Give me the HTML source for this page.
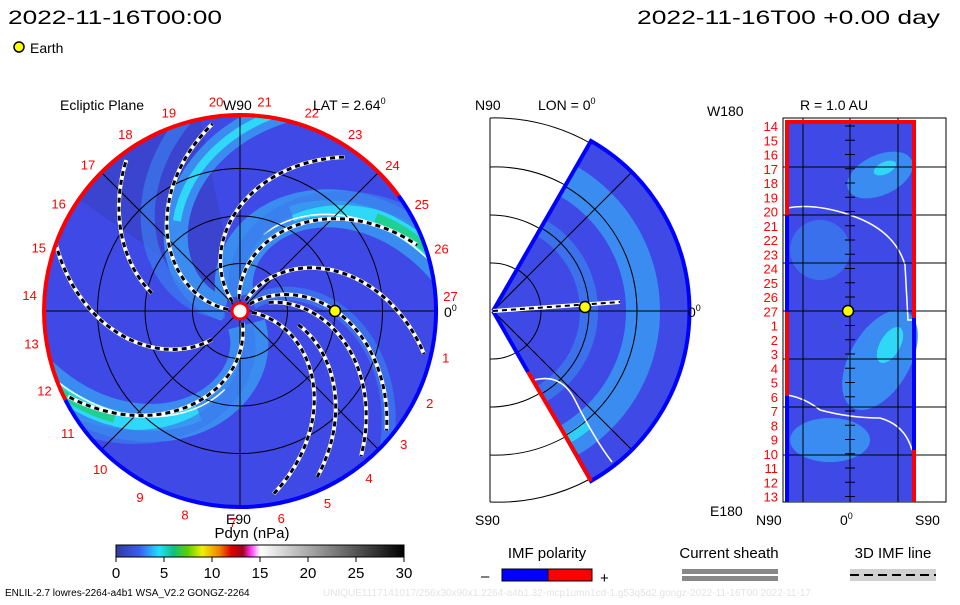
<!DOCTYPE html>
<html><head><meta charset="utf-8"><style>
body{margin:0;background:#fff;width:960px;height:600px;overflow:hidden;font-family:"Liberation Sans",sans-serif}
svg text{font-family:"Liberation Sans",sans-serif}
</style></head><body>
<svg id="s" width="960" height="600" viewBox="0 0 960 600" xmlns="http://www.w3.org/2000/svg">
<defs>
<clipPath id="cc"><circle cx="240" cy="311" r="196"/></clipPath>
<clipPath id="wc"><path d="M493,311 L591,141 A196,196 0 0 1 591,481 Z"/></clipPath>
<linearGradient id="cb" x1="0" x2="1">
<stop offset="0" stop-color="#303c9c"/><stop offset="0.08" stop-color="#3a5cf0"/><stop offset="0.15" stop-color="#20e0ff"/><stop offset="0.2" stop-color="#10c080"/><stop offset="0.25" stop-color="#60d000"/><stop offset="0.3" stop-color="#f0f000"/><stop offset="0.36" stop-color="#f08000"/><stop offset="0.4" stop-color="#e00000"/><stop offset="0.44" stop-color="#a00020"/><stop offset="0.47" stop-color="#ff40ff"/><stop offset="0.5" stop-color="#ffffff"/><stop offset="1" stop-color="#000"/>
</linearGradient>
</defs>
<text x="8" y="24" font-size="19" textLength="214" lengthAdjust="spacingAndGlyphs">2022-11-16T00:00</text>
<text x="637" y="24" font-size="19" textLength="303" lengthAdjust="spacingAndGlyphs">2022-11-16T00 +0.00 day</text>
<circle cx="19" cy="47" r="5" fill="#ff0" stroke="#000" stroke-width="1.5"/>
<text x="30" y="53" font-size="14">Earth</text>

<g id="eclip">
<circle cx="240" cy="311" r="196" fill="#3f4ae6"/>
<path d="M240,311 L80,200 A196,196 0 0 1 200,118 Z" fill="#3a42c8" clip-path="url(#cc)" opacity="0.8"/>
<g id="bands" clip-path="url(#cc)"></g>
<g id="grid" stroke="#000" stroke-width="1" fill="none" clip-path="url(#cc)"></g>
<g id="spirals" clip-path="url(#cc)"></g>
<g id="rim"></g>
<circle cx="240" cy="311" r="8" fill="#fff" stroke="#f00" stroke-width="3"/>
<circle cx="335" cy="311" r="5.5" fill="#ff0" stroke="#000" stroke-width="1.5"/>
<g id="lonlabels" fill="#f00" font-size="13"></g>
<text x="60" y="110" font-size="14">Ecliptic Plane</text>
<text x="223" y="110" font-size="14">W90</text>
<text x="313" y="110" font-size="14">LAT = 2.64<tspan font-size="9" dy="-6">0</tspan></text>
<text x="226" y="524" font-size="14">E90</text>
<text x="444" y="317" font-size="14">0<tspan font-size="9" dy="-6">0</tspan></text>
</g>

<g>
<line x1="490" y1="118" x2="490" y2="502" stroke="#000"/>
<g fill="none" stroke="#000" stroke-width="1">
<path d="M490,118 A193,193 0 0 1 590,143"/><path d="M490,502 A193,193 0 0 0 590,479"/>
<path d="M490,263 A48,48 0 0 1 517,270"/><path d="M490,215 A96,96 0 0 1 560,245"/><path d="M490,167 A144,144 0 0 1 565,185"/>
<path d="M490,359 A48,48 0 0 0 517,352"/><path d="M490,407 A96,96 0 0 0 560,377"/><path d="M490,455 A144,144 0 0 0 565,437"/>
</g>
<g clip-path="url(#wc)">
<rect x="490" y="118" width="210" height="390" fill="#3f4ae6"/>
<circle cx="493" cy="311" r="150" fill="none" stroke="#3a8cf0" stroke-width="34"/>
<circle cx="493" cy="311" r="148" fill="none" stroke="#2fd0f8" stroke-width="10" stroke-dasharray="60 400" stroke-dashoffset="330"/>
<circle cx="493" cy="311" r="96" fill="none" stroke="#3a8cf0" stroke-width="18" opacity="0.6"/>
<g fill="none" stroke="#000"><circle cx="493" cy="311" r="48"/><circle cx="493" cy="311" r="96"/><circle cx="493" cy="311" r="144"/>
<line x1="493" y1="311" x2="700" y2="311"/><line x1="493" y1="311" x2="650" y2="154"/><line x1="493" y1="311" x2="650" y2="468"/></g>
<path d="M528,382 Q560,370 575,400 Q595,440 612,462" fill="none" stroke="#fff" stroke-width="1.5"/>
</g>
<path d="M493,311 L591,141 A196,196 0 0 1 591,481 L566,437" fill="none" stroke="#00f" stroke-width="4"/>
<path d="M566,437 L528,372" stroke="#f00" stroke-width="4"/><path d="M591,481 L566,437" stroke="#f00" stroke-width="4"/>
<path d="M493,311 L528,372" stroke="#00f" stroke-width="4"/>
<line x1="493" y1="311" x2="620" y2="302" stroke="#fff" stroke-width="4"/>
<line x1="493" y1="311" x2="620" y2="302" stroke="#000" stroke-width="2" stroke-dasharray="5 4"/>
<circle cx="585" cy="307" r="5.5" fill="#ff0" stroke="#000" stroke-width="1.5"/>
<text x="475" y="110" font-size="14">N90</text>
<text x="538" y="110" font-size="14">LON = 0<tspan font-size="9" dy="-6">0</tspan></text>
<text x="475" y="525" font-size="14">S90</text>
<text x="688" y="317" font-size="14">0<tspan font-size="9" dy="-6">0</tspan></text>
</g>

<g>
<rect x="783" y="118" width="163" height="384" fill="#fff" stroke="#000"/>
<rect x="787" y="122" width="127" height="380" fill="#3f4ae6"/>
<ellipse cx="880" cy="175" rx="35" ry="20" fill="#3a8cf0" transform="rotate(-25 880 175)"/>
<ellipse cx="885" cy="168" rx="12" ry="6" fill="#30d8f8" transform="rotate(-25 885 168)"/>
<ellipse cx="880" cy="360" rx="30" ry="55" fill="#3a8cf0" transform="rotate(30 880 360)"/>
<ellipse cx="890" cy="345" rx="10" ry="20" fill="#30d8f8" transform="rotate(30 890 345)"/>
<ellipse cx="830" cy="440" rx="40" ry="22" fill="#3a8cf0"/>
<ellipse cx="820" cy="250" rx="30" ry="30" fill="#3a80f0" opacity="0.7"/>
<path d="M787,208 Q815,203 850,215 Q895,230 905,265 L908,320 L914,320" fill="none" stroke="#fff" stroke-width="1.5"/>
<path d="M787,395 Q805,398 820,410 Q850,418 880,418 Q905,425 912,450" fill="none" stroke="#fff" stroke-width="1.5"/>
<g id="rgrid" stroke="#000" stroke-width="1"></g>
<path d="M787,502 L787,122 L914,122 L914,318" fill="none" stroke="#f00" stroke-width="4"/>
<line x1="787" y1="215" x2="787" y2="502" stroke="#00f" stroke-width="4"/>
<line x1="787" y1="312" x2="787" y2="396" stroke="#f00" stroke-width="4"/>
<line x1="914" y1="318" x2="914" y2="450" stroke="#00f" stroke-width="4"/>
<line x1="914" y1="450" x2="914" y2="502" stroke="#f00" stroke-width="4"/>
<circle cx="848" cy="311" r="5.5" fill="#ff0" stroke="#000" stroke-width="1.5"/>
<g id="rlabels" fill="#f00" font-size="13" text-anchor="end"></g>
<text x="707" y="116" font-size="14">W180</text>
<text x="800" y="110" font-size="14">R = 1.0 AU</text>
<text x="710" y="516" font-size="14">E180</text>
<text x="756" y="525" font-size="14">N90</text>
<text x="840" y="525" font-size="14">0<tspan font-size="9" dy="-6">0</tspan></text>
<text x="915" y="525" font-size="14">S90</text>
</g>

<g>
<text x="252" y="538" font-size="15" text-anchor="middle">Pdyn (nPa)</text>
<rect x="116" y="545" width="288" height="12" fill="url(#cb)" stroke="#000"/>
<g id="cbticks"></g>
</g>
<g>
<text x="547" y="558" font-size="15" text-anchor="middle">IMF polarity</text>
<text x="481" y="581" font-size="15">–</text>
<rect x="502" y="569" width="46" height="12" fill="#00f" stroke="#000"/>
<rect x="548" y="569" width="44" height="12" fill="#f00" stroke="#000"/>
<text x="600" y="583" font-size="15">+</text>
</g>
<g>
<text x="729" y="558" font-size="15" text-anchor="middle">Current sheath</text>
<rect x="682" y="569" width="96" height="5" fill="#888"/><rect x="682" y="576" width="96" height="5" fill="#888"/>
</g>
<g>
<text x="893" y="558" font-size="15" text-anchor="middle">3D IMF line</text>
<rect x="850" y="569" width="86" height="12" fill="#d0d0d0"/>
<line x1="850" y1="575" x2="936" y2="575" stroke="#000" stroke-width="2" stroke-dasharray="9 5"/>
</g>
<text x="5" y="596" font-size="10">ENLIL-2.7 lowres-2264-a4b1 WSA_V2.2 GONGZ-2264</text>
<text x="323" y="596" font-size="10" fill="#e4e4e4">UNIQUE1117141017/256x30x90x1.2264-a4b1.32-mcp1umn1cd-1.g53q5d2.gongz-2022-11-16T00   2022-11-17</text>
</svg>
<script>
const NS="http://www.w3.org/2000/svg";
const cbTicks=[0,5,10,15,20,25,30];
const lonLabels=[1,2,3,4,5,6,7,8,9,10,11,12,13,14,15,16,17,18,19,20,21,22,23,24,25,26,27];
const rowLabels=[14,15,16,17,18,19,20,21,22,23,24,25,26,27,1,2,3,4,5,6,7,8,9,10,11,12,13];
// spiral arms: outer end angle (deg), outer radius, inner radius (px)
const armEndAngles=[98,127,55,20,-14,-40,-51,-65,-80,206,160];
const armOuterR=[190,189,188,190,191,191,191,183,187,193,196];
const armInnerR=[12,90,12,12,12,12,30,60,12,12,40];
// density bands: angle at r=190
const bandAngles=[22,208,85];
const cx=240,cy=311,R=196,S=0.42;
function mk(tag,at,parent){const e=document.createElementNS(NS,tag);for(const k in at)e.setAttribute(k,at[k]);parent.appendChild(e);return e;}
function cbX(v){return 116+v/30*288;}
const cbt=document.getElementById('cbticks');
cbTicks.forEach(v=>{mk('line',{x1:cbX(v),y1:557,x2:cbX(v),y2:562,stroke:'#000'},cbt);
 const t=mk('text',{x:cbX(v),y:578,'font-size':15,'text-anchor':'middle'},cbt);t.textContent=v;
 
 });
function spiral(aEnd,rEnd,r0,r1,s){let d='';for(let r=r0;r<=r1;r+=3){const a=(aEnd+s*(rEnd-r))*Math.PI/180;d+=(d?'L':'M')+(cx+r*Math.cos(a)).toFixed(1)+','+(cy-r*Math.sin(a)).toFixed(1);}return d;}
const bands=document.getElementById('bands');
bandAngles.forEach((a,i)=>{mk('path',{d:spiral(a,190,15,230,0.5),fill:'none',stroke:'#3a8cf0','stroke-width':i==2?24:38},bands);});
bandAngles.forEach((a,i)=>{mk('path',{d:spiral(a,190,110,230,0.5),fill:'none',stroke:'#2fd8f8','stroke-width':i==2?8:16},bands);});
bandAngles.forEach((a,i)=>{if(i<2)mk('path',{d:spiral(a,190,165,230,0.5),fill:'none',stroke:'#20d090','stroke-width':9},bands);});
bandAngles.forEach((a,i)=>{if(i<2)mk('path',{d:spiral(a-4,190,80,230,0.5),fill:'none',stroke:'#fff','stroke-width':1.5},bands);});
armEndAngles.forEach((a,i)=>{if(i%3==0)mk('path',{d:spiral(a+12,armOuterR[i],15,230,S),fill:'none',stroke:'#3a7cee','stroke-width':14,opacity:0.7},bands);});
const g=document.getElementById('grid');
[47.5,95,142.5].forEach(r=>mk('circle',{cx,cy,r},g));
[0,45,90,135].forEach(a=>{const c=Math.cos(a*Math.PI/180)*R,s=Math.sin(a*Math.PI/180)*R;mk('line',{x1:cx-c,y1:cy+s,x2:cx+c,y2:cy-s},g);});
const sp=document.getElementById('spirals');
armEndAngles.forEach((a,i)=>{const d=spiral(a,armOuterR[i],armInnerR[i],armOuterR[i],S);
 mk('path',{d,fill:'none',stroke:'#fff','stroke-width':4},sp);
 const e=mk('path',{d,fill:'none',stroke:'#000','stroke-width':3,'stroke-dasharray':'5 4'},sp);
 
 });
const rim=document.getElementById('rim');
function arc(a0,a1,col){const p=a=>[(cx+R*Math.cos(a*Math.PI/180)).toFixed(1),(cy-R*Math.sin(a*Math.PI/180)).toFixed(1)];const s=p(a0),e=p(a1);mk('path',{d:`M${s} A${R},${R} 0 ${a1-a0>180?1:0} 0 ${e}`,fill:'none',stroke:col,'stroke-width':4},rim);}
arc(36,207,'#f00');arc(207,396,'#00f');
const ll=document.getElementById('lonlabels');
lonLabels.forEach(k=>{const a=(-12.7-(k-1)*13.2)*Math.PI/180;const t=mk('text',{x:(cx+211*Math.cos(a)).toFixed(1),y:(cy-211*Math.sin(a)+5).toFixed(1),'text-anchor':'middle'},ll);t.textContent=k;
 
 });
const rg=document.getElementById('rgrid');
[803,850,898].forEach(x=>mk('line',{x1:x,y1:118,x2:x,y2:502},rg));
[167,215,263,311,359,407,455].forEach(y=>mk('line',{x1:783,y1:y,x2:946,y2:y},rg));
const rl=document.getElementById('rlabels');
rowLabels.forEach((k,i)=>{const y=126+i*14.25;const t=mk('text',{x:778,y:y+5},rl);t.textContent=k;
 
 
 mk('line',{x1:845,y1:y,x2:855,y2:y,stroke:'#000'},rg);});
</script>
</body></html>
